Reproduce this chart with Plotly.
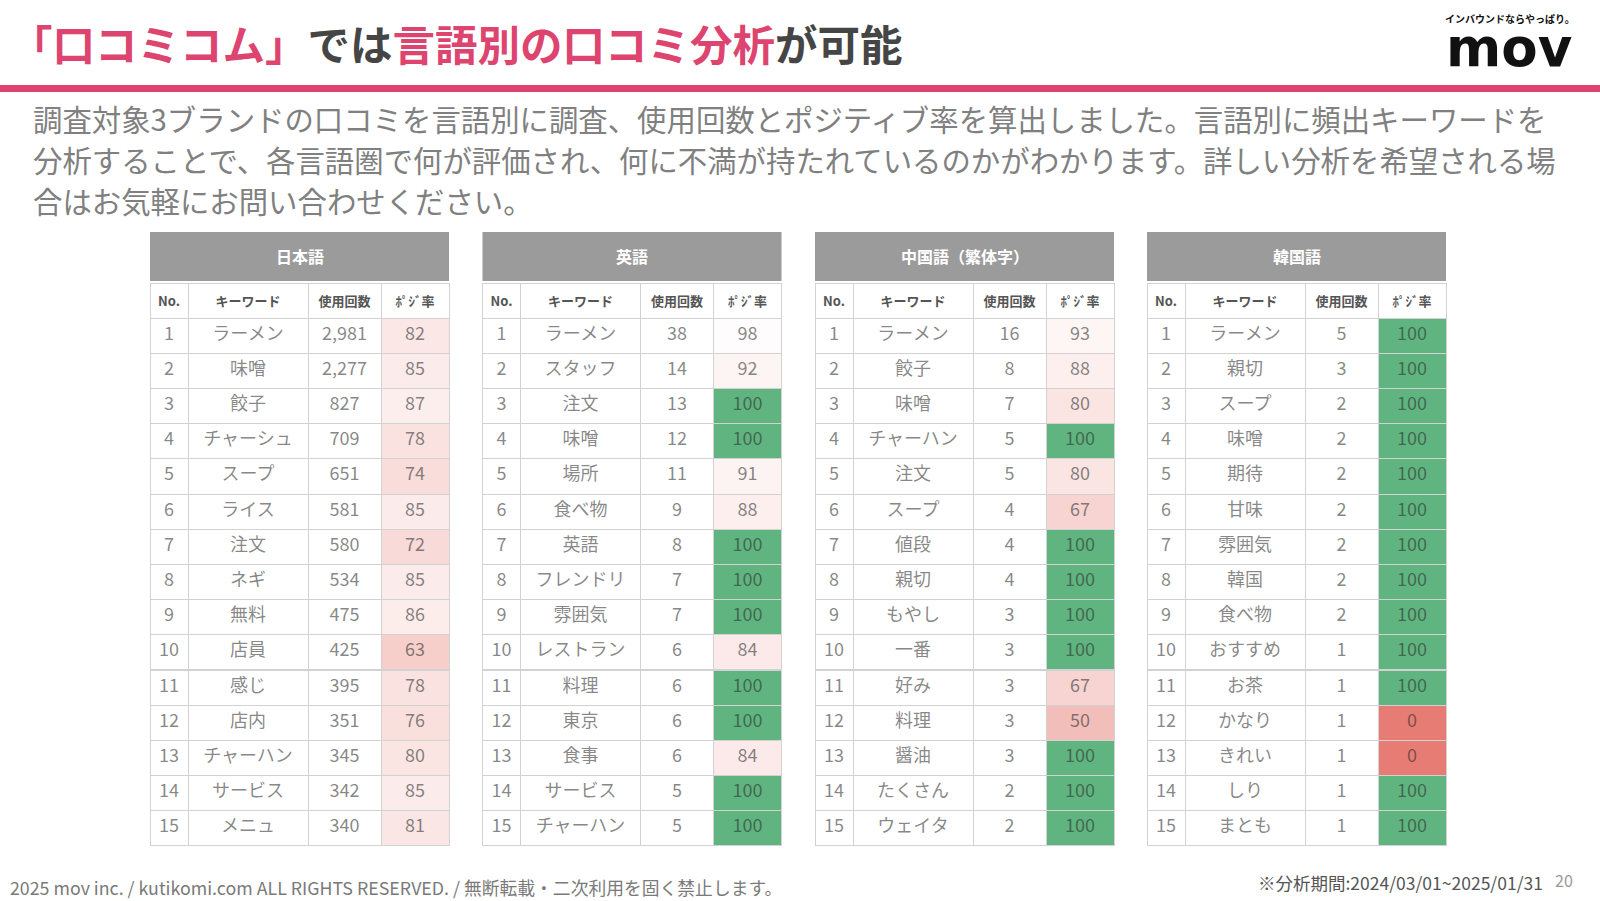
import plotly.graph_objects as go

W, H = 1600, 901
FONT = "Noto Sans CJK JP"

# ---------------- data ----------------
languages = ["日本語", "英語", "中国語（繁体字）", "韓国語"]
col_headers = ["No.", "キーワード", "使用回数", "ﾎﾟｼﾞ率"]
ranks = list(range(1, 16))

ja_keywords = ["ラーメン", "味噌", "餃子", "チャーシュ", "スープ", "ライス", "注文", "ネギ",
               "無料", "店員", "感じ", "店内", "チャーハン", "サービス", "メニュ"]
ja_counts = [2981, 2277, 827, 709, 651, 581, 580, 534, 475, 425, 395, 351, 345, 342, 340]
ja_rates = [82, 85, 87, 78, 74, 85, 72, 85, 86, 63, 78, 76, 80, 85, 81]

en_keywords = ["ラーメン", "スタッフ", "注文", "味噌", "場所", "食べ物", "英語", "フレンドリ",
               "雰囲気", "レストラン", "料理", "東京", "食事", "サービス", "チャーハン"]
en_counts = [38, 14, 13, 12, 11, 9, 8, 7, 7, 6, 6, 6, 6, 5, 5]
en_rates = [98, 92, 100, 100, 91, 88, 100, 100, 100, 84, 100, 100, 84, 100, 100]

zh_keywords = ["ラーメン", "餃子", "味噌", "チャーハン", "注文", "スープ", "値段", "親切",
               "もやし", "一番", "好み", "料理", "醤油", "たくさん", "ウェイタ"]
zh_counts = [16, 8, 7, 5, 5, 4, 4, 4, 3, 3, 3, 3, 3, 2, 2]
zh_rates = [93, 88, 80, 100, 80, 67, 100, 100, 100, 100, 67, 50, 100, 100, 100]

ko_keywords = ["ラーメン", "親切", "スープ", "味噌", "期待", "甘味", "雰囲気", "韓国",
               "食べ物", "おすすめ", "お茶", "かなり", "きれい", "しり", "まとも"]
ko_counts = [5, 3, 2, 2, 2, 2, 2, 2, 2, 1, 1, 1, 1, 1, 1]
ko_rates = [100, 100, 100, 100, 100, 100, 100, 100, 100, 100, 100, 0, 0, 100, 100]

title_parts = [("「口コミコム」", True), ("では", False), ("言語別の口コミ分析", True), ("が可能", False)]
subtitle_lines = [
    "調査対象3ブランドの口コミを言語別に調査、使用回数とポジティブ率を算出しました。言語別に頻出キーワードを",
    "分析することで、各言語圏で何が評価され、何に不満が持たれているのかがわかります。詳しい分析を希望される場",
    "合はお気軽にお問い合わせください。",
]
footer_left = "2025 mov inc. / kutikomi.com ALL RIGHTS RESERVED. / 無断転載・二次利用を固く禁止します。"
footer_right = "※分析期間:2024/03/01~2025/01/31"
page_no = "20"
logo_tag = "インバウンドならやっぱり。"
logo_text = "mov"

tables = [
    (ja_keywords, ja_counts, ja_rates),
    (en_keywords, en_counts, en_rates),
    (zh_keywords, zh_counts, zh_rates),
    (ko_keywords, ko_counts, ko_rates),
]

# ---------------- styling helpers ----------------
PINK = "#dd4570"
DARK = "#454545"
RED = (230, 124, 115)
GREEN = (95, 180, 127)


def rate_color(v):
    if v >= 100:
        return "rgb(%d,%d,%d)" % GREEN
    t = v / 100.0
    r, g, b = [round(c + (255 - c) * t) for c in RED]
    return "rgb(%d,%d,%d)" % (r, g, b)


def px(x):
    return x / W


def py(y):
    return 1 - y / H


fig = go.Figure()

lefts = [150, 482.5, 815, 1147]
tw = 299
head_top, head_bot = 232, 281
table_top = 283

for i, (kw, cnt, rate) in enumerate(tables):
    x0 = lefts[i]
    fills = ["white", "white", "white", [rate_color(v) for v in rate]]
    fig.add_trace(go.Table(
        domain=dict(x=[px(x0), px(x0 + tw)], y=[py(880), py(table_top)]),
        columnwidth=[38, 120, 73, 68],
        header=dict(
            values=["<b>%s</b>" % h for h in col_headers],
            height=25,
            align="center",
            fill_color="white",
            line=dict(color="#d2d2d2", width=1),
            font=dict(family=FONT, size=13, color="#555555"),
        ),
        cells=dict(
            values=[ranks, kw, ["{:,}".format(c) for c in cnt], rate],
            height=35.2,
            align="center",
            fill_color=fills,
            line=dict(color="#d2d2d2", width=1),
            font=dict(family=FONT, size=18, color="rgba(45,45,45,0.58)"),
        ),
    ))
    fig.add_shape(type="rect", xref="paper", yref="paper",
                  x0=px(x0), x1=px(x0 + tw), y0=py(head_bot), y1=py(head_top),
                  fillcolor="#9b9b9b", line=dict(width=0), layer="below")
    fig.add_annotation(xref="paper", yref="paper", x=px(x0 + tw / 2), y=py((head_top + head_bot) / 2),
                       text="<b>%s</b>" % languages[i], showarrow=False,
                       xanchor="center", yanchor="middle",
                       font=dict(family=FONT, size=16, color="white"))

# title
title_html = "".join(
    '<span style="color:%s">%s</span>' % (PINK if hl else DARK, t) for t, hl in title_parts
)
fig.add_annotation(xref="paper", yref="paper", x=px(8), y=py(43), text="<b>%s</b>" % title_html,
                   showarrow=False, xanchor="left", yanchor="middle",
                   font=dict(family=FONT, size=42.5, color=DARK))

# pink rule
fig.add_shape(type="rect", xref="paper", yref="paper", x0=0, x1=1, y0=py(92), y1=py(85),
              fillcolor=PINK, line=dict(width=0))

# logo
fig.add_annotation(xref="paper", yref="paper", x=px(1510), y=py(18), text="<b>%s</b>" % logo_tag,
                   showarrow=False, xanchor="center", yanchor="middle",
                   font=dict(family=FONT, size=10, color="#111111"))
fig.add_annotation(xref="paper", yref="paper", x=px(1509), y=py(48), text="<b>%s</b>" % logo_text,
                   showarrow=False, xanchor="center", yanchor="middle",
                   font=dict(family="DejaVu Sans", size=53, color="#111111"))

# subtitle
for j, line in enumerate(subtitle_lines):
    fig.add_annotation(xref="paper", yref="paper", x=px(31), y=py(118 + 40.8 * j), text=line,
                       showarrow=False, xanchor="left", yanchor="middle",
                       font=dict(family=FONT, size=29.4, color="#808080"))

# footer
fig.add_annotation(xref="paper", yref="paper", x=px(8), y=py(887), text=footer_left,
                   showarrow=False, xanchor="left", yanchor="middle",
                   font=dict(family=FONT, size=17.8, color="#7a7a7a"))
fig.add_annotation(xref="paper", yref="paper", x=px(1545), y=py(882), text=footer_right,
                   showarrow=False, xanchor="right", yanchor="middle",
                   font=dict(family=FONT, size=17.5, color="#555555"))
fig.add_annotation(xref="paper", yref="paper", x=px(1575), y=py(880), text=page_no,
                   showarrow=False, xanchor="right", yanchor="middle",
                   font=dict(family=FONT, size=16, color="#9a9a9a"))

fig.update_layout(
    width=W, height=H,
    margin=dict(l=0, r=0, t=0, b=0),
    paper_bgcolor="white", plot_bgcolor="white",
    showlegend=False,
)

fig.write_html("out.html",
               config={"displayModeBar": False},
               post_script="document.body.style.margin='0';document.body.style.overflow='hidden';")
